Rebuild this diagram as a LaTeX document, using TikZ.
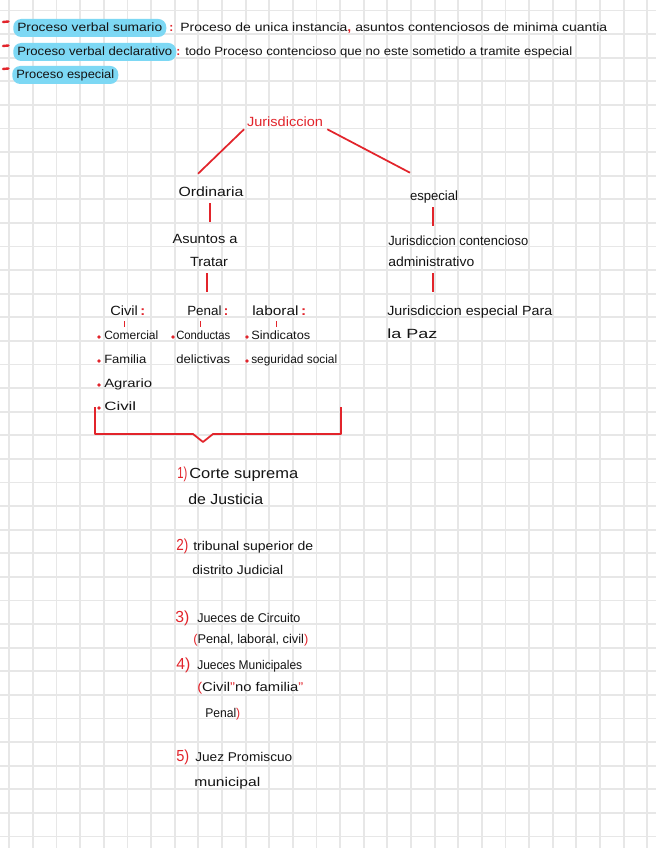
\documentclass[tikz,border=0pt]{standalone}
\usepackage{fontspec}
\setmainfont{Liberation Sans}
\usepackage{graphicx}
\newlength\pxu \setlength\pxu{0.75pt}
\newcommand\fw[2]{\resizebox{#1\pxu}{\height}{#2}}
\definecolor{hred}{HTML}{E2242B}
\definecolor{hblue}{HTML}{7DD8F4}
\definecolor{gridc}{HTML}{E7E7E7}
\definecolor{ink}{HTML}{141414}
\begin{document}
\begin{tikzpicture}[x=0.75pt,y=-0.75pt,
  txt/.style={inner sep=0pt,anchor=west,text=ink,text height=7pt,text depth=2pt,font=\fontsize{10}{12}\selectfont},
  toptxt/.style={txt,font=\fontsize{9}{11}\selectfont},
  hl/.style={toptxt,fill=hblue,rounded corners=6pt,inner xsep=3pt,minimum height=13.5pt},
  small/.style={txt,font=\fontsize{9}{11}\selectfont},
  big/.style={txt,font=\fontsize{11}{13}\selectfont},
  mid/.style={txt,font=\fontsize{9.5}{12}\selectfont},
  num/.style={txt,text=hred,font=\fontsize{12}{14}\selectfont},
  rtxt/.style={txt,text=hred},
  rl/.style={draw=hred,line width=1.3pt},
  bul/.style={circle,fill=hred,inner sep=0pt,minimum size=2.8pt}]
\useasboundingbox (0,0) rectangle (656,848);
\fill[white] (0,0) rectangle (656,848);
% grid
\foreach \i in {0,...,27} \draw[gridc,line width=1.4pt] ({9.3+\i*23.63},0) -- ({9.3+\i*23.63},848);
\foreach \j in {0,...,35} \draw[gridc,line width=1.4pt] (0,{10.5+\j*23.6}) -- (656,{10.5+\j*23.6});

% top lines
\draw[hred,line width=1.8pt,line cap=round] (3,22) -- (8.5,21.5);
\draw[hred,line width=1.8pt,line cap=round] (3,46) -- (8.5,45.5);
\draw[hred,line width=1.8pt,line cap=round] (3,69) -- (8.5,68.5);
\node[hl] (p1) at (13,28) {\fw{145}{Proceso verbal sumario}};
\node[toptxt,text=hred] (c1) at (169,28) {\textbf{:}};
\node[toptxt] (d1) at (180,28) {\fw{427}{Proceso de unica instancia{\color{hred}\textbf{,}} asuntos contenciosos de minima cuantia}};
\node[hl] (p2) at (13,52) {\fw{155}{Proceso verbal declarativo}};
\node[toptxt,text=hred] (c2) at (176,52) {\textbf{:}};
\node[toptxt] (d2) at (185,52) {\fw{387}{todo Proceso contencioso que no este sometido a tramite especial}};
\node[hl] (p3) at (12,75) {\fw{98}{Proceso especial}};

% tree
\node[rtxt,anchor=center] (jur) at (285,123) {\fw{76}{Jurisdiccion}};
\node[txt,anchor=center] (ord) at (211,193) {\fw{65}{Ordinaria}};
\node[txt,anchor=center] (esp) at (434,197) {\fw{48}{especial}};
\draw[rl] ([xshift=-2pt]jur.south west) -- ([xshift=-9.75pt,yshift=9.75pt]ord.north);
\draw[rl] ([xshift=3pt]jur.south east) -- ([xshift=-18pt,yshift=13.5pt]esp.north);

\node[txt,anchor=center] (as1) at (205,240) {\fw{65}{Asuntos a}};
\node[txt,anchor=center] (as2) at (209,263) {\fw{38}{Tratar}};
\draw[rl] ([xshift=-0.75pt,yshift=-3pt]ord.south) -- ++(0,19);
\draw[rl] ([xshift=-1.5pt,yshift=-3pt]as2.south) -- ++(0,19);

\node[txt] (jc1) at (388,242) {\fw{140}{Jurisdiccion contencioso}};
\node[txt] (jc2) at (388,263) {\fw{86}{administrativo}};
\draw[rl] ([xshift=-0.75pt,yshift=-3pt]esp.south) -- ++(0,19);
\draw[rl] ([xshift=1.5pt,yshift=-3pt]jc2.south) -- ++(0,19);
\node[txt] (jep1) at (387,312) {\fw{165}{Jurisdiccion especial Para}};
\node[txt] (jep2) at (387,335) {\fw{50}{la Paz}};

% categories
\node[txt] (civ) at (110,312) {\fw{35}{Civil\,{\color{hred}\textbf{:}}}};
\node[txt] (pen) at (187,312) {\fw{41}{Penal\,{\color{hred}\textbf{:}}}};
\node[txt] (lab) at (252,312) {\fw{54}{laboral\,{\color{hred}\textbf{:}}}};
\draw[hred,line width=1.1pt] ([xshift=-2.6pt,yshift=-2.25pt]civ.south) -- ++(0,6);
\draw[hred,line width=1.1pt] ([xshift=-5.6pt,yshift=-2.25pt]pen.south) -- ++(0,6);
\draw[hred,line width=1.1pt] ([xshift=-2.25pt,yshift=-2.25pt]lab.south) -- ++(0,6);

\node[bul] (b1) at (99,337) {};
\node[small] (t1) at (104,336) {\fw{54}{Comercial}};
\node[bul] (b2) at (99,361) {};
\node[small] (t2) at (104,360) {\fw{42}{Familia}};
\node[bul] (b3) at (99,385) {};
\node[small] (t3) at (104,384) {\fw{48}{Agrario}};
\node[bul] (b4) at (99,408) {};
\node[small] (t4) at (104,407) {\fw{32}{Civil}};

\node[bul] (b5) at (173,337) {};
\node[small] (t5) at (176,336) {\fw{54}{Conductas}};
\node[small] (t6) at (176,360) {\fw{54}{delictivas}};

\node[bul] (b7) at (247,337) {};
\node[small] (t7) at (251,336) {\fw{59}{Sindicatos}};
\node[bul] (b8) at (247,361) {};
\node[small] (t8) at (251,360) {\fw{86}{seguridad social}};

% bracket
\draw[rl,line join=round] (95,407) -- (95,434) -- (193,434) -- (203,442) -- (213,434) -- (341,434) -- (341,407);

% courts
\node[num] (n1) at (177,475) {\fw{10}{1)}};
\node[big] (k1) at (189,475) {\fw{109}{Corte suprema}};
\node[big] (k1b) at (188,501) {\fw{75}{de Justicia}};
\node[num] (n2) at (176,547) {\fw{12}{2)}};
\node[mid] (k2) at (193,547) {\fw{120}{tribunal superior de}};
\node[mid] (k2b) at (192,571) {\fw{91}{distrito Judicial}};
\node[num] (n3) at (175,619) {\fw{14}{3)}};
\node[mid] (k3) at (197,619) {\fw{103}{Jueces de Circuito}};
\node[mid] (k3b) at (193,640) {\fw{115}{{\color{hred}(}Penal, laboral, civil{\color{hred})}}};
\node[num] (n4) at (176,666) {\fw{14}{4)}};
\node[mid] (k4) at (197,666) {\fw{105}{Jueces Municipales}};
\node[mid] (k4b) at (197,688) {\fw{106}{{\color{hred}(}Civil{\color{hred}"}no familia{\color{hred}"}}};
\node[mid] (k4c) at (205,714) {\fw{35}{Penal{\color{hred})}}};
\node[num] (n5) at (176,758) {\fw{13}{5)}};
\node[mid] (k5) at (195,758) {\fw{97}{Juez Promiscuo}};
\node[mid] (k5b) at (194,783) {\fw{66}{municipal}};
\end{tikzpicture}
\end{document}
